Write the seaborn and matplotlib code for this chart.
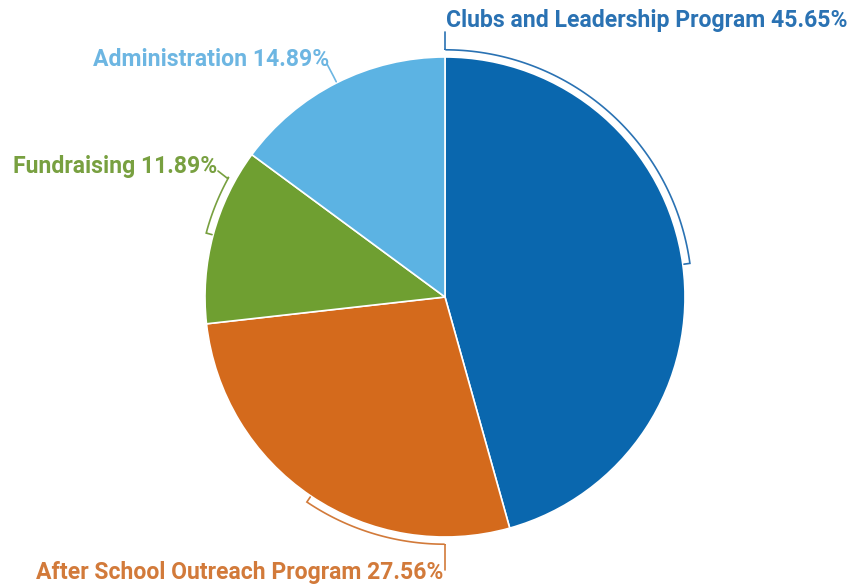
import numpy as np
import matplotlib
matplotlib.use("Agg")
import matplotlib.pyplot as plt
import seaborn as sns

# ---- data ----
categories = ["Clubs and Leadership Program", "After School Outreach Program",
              "Fundraising", "Administration"]
values = [45.65, 27.56, 11.89, 14.89]
slice_colors = ["#0a67ae", "#d46a1c", "#6f9f31", "#5cb3e3"]
label_colors = ["#2a72b3", "#d27a3a", "#78a040", "#6db6e2"]

sns.set_style("white")
plt.rcParams['font.family'] = ['Roboto', 'DejaVu Sans']

W, H, DPI = 867, 586, 100
fig = plt.figure(figsize=(W / DPI, H / DPI), dpi=DPI)
ax = fig.add_axes([0, 0, 1, 1])
cx, cy, R = 445, 297, 240  # pixel layout of pie

palette = sns.color_palette(slice_colors)
wedges, _ = ax.pie(values, colors=palette, startangle=90, counterclock=False,
                   radius=1.0, wedgeprops=dict(edgecolor='white', linewidth=1.2))
ax.set_xlim(-cx / R, (W - cx) / R)
ax.set_ylim(-(H - cy) / R, cy / R)
ax.set_aspect('equal', adjustable='datalim')
ax.axis('off')

# mid angles (degrees) from the data
total = sum(values)
starts = 90 - np.cumsum([0] + values[:-1]) / total * 360
mids = starts - np.array(values) / total * 180

# layout of callouts: arc end angle, label anchor (pixels), alignment
arc_r = 1.03
tick_r = 1.005
layouts = [
    dict(end=90, line=[(445, 50), (445, 32)], text=(446, 21), ha='left'),
    dict(end=-90, line=[(445, 544), (445, 570)], text=(443, 573), ha='right'),
    dict(end=-209, line=[(227, 178), (218, 171)], text=(217, 166), ha='right'),
    dict(end=None, line=[(327, 64)], text=(329, 60), ha='right'),
]

def px(p):
    return ((p[0] - cx) / R, (cy - p[1]) / R)

for i, (cat, val) in enumerate(zip(categories, values)):
    lay = layouts[i]
    col = label_colors[i]
    m = mids[i]
    pts = []
    pts.append((tick_r * np.cos(np.radians(m)), tick_r * np.sin(np.radians(m))))
    if lay['end'] is not None:
        angs = np.linspace(m, lay['end'], 80)
        for a in angs:
            pts.append((arc_r * np.cos(np.radians(a)), arc_r * np.sin(np.radians(a))))
    else:
        pts.append((arc_r * np.cos(np.radians(m)), arc_r * np.sin(np.radians(m))))
    for p in lay['line']:
        pts.append(px(p))
    pts = np.array(pts)
    ax.plot(pts[:, 0], pts[:, 1], color=col, lw=1.2, solid_joinstyle='miter')
    tx, ty = px(lay['text'])
    ax.text(tx, ty, f"{cat} {val:.2f}%", color=col, fontsize=16.6,
            fontweight='bold', ha=lay['ha'], va='center')

fig.savefig("out.png", dpi=DPI)
